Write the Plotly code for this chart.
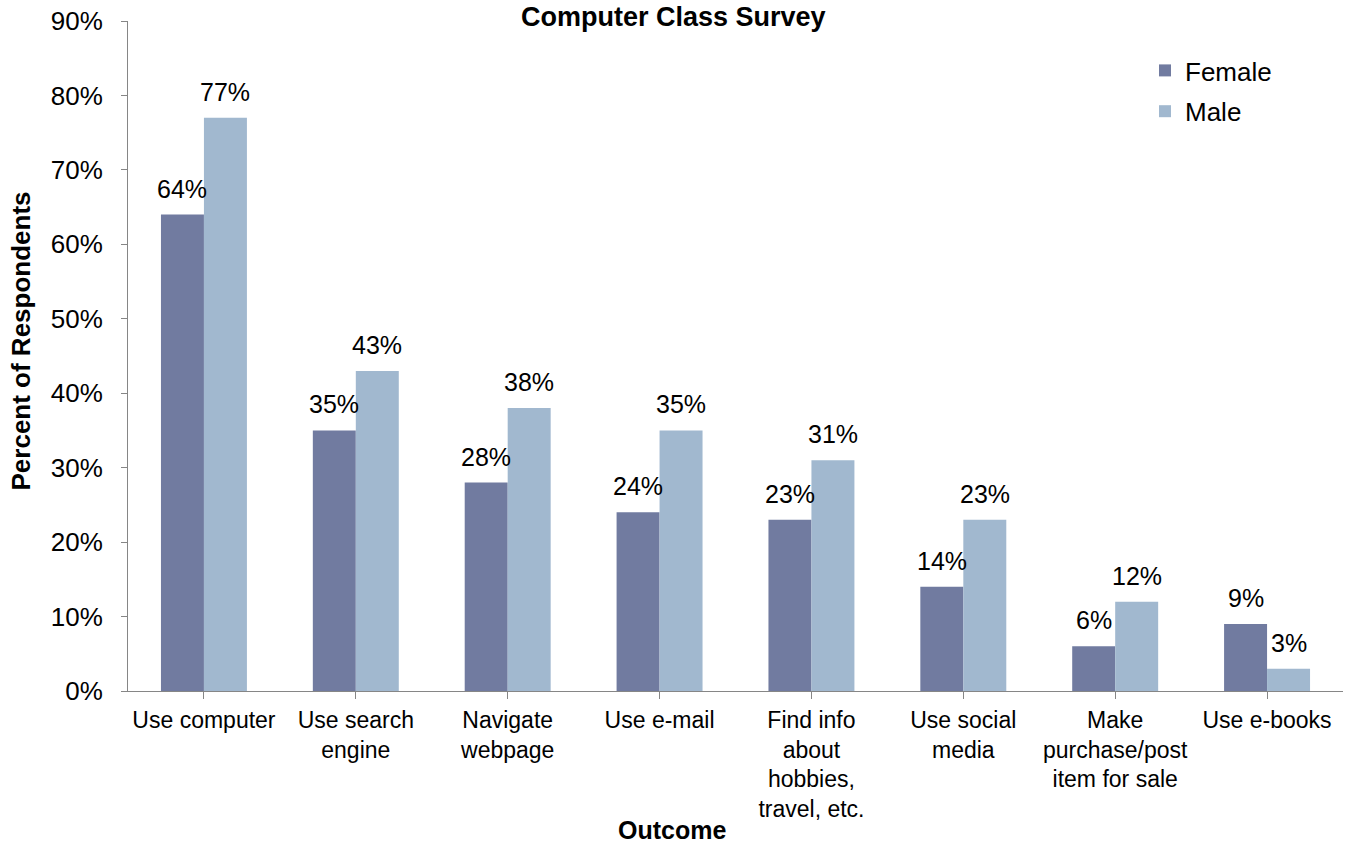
import plotly.graph_objects as go

categories = ["Use computer", "Use search<br>engine", "Navigate<br>webpage", "Use e-mail",
              "Find info<br>about<br>hobbies,<br>travel, etc.", "Use social<br>media",
              "Make<br>purchase/post<br>item for sale", "Use e-books"]
female = [64, 35, 28, 24, 23, 14, 6, 9]
male = [77, 43, 38, 35, 31, 23, 12, 3]
y_ticks = list(range(0, 91, 10))

FONT = "Liberation Sans, Arial, sans-serif"
c_f = "#717BA0"
c_m = "#A1B8CF"
bargap = 0.434
bw = (1 - bargap) / 2

W, H = 1347, 846
L, R, T, B = 128, 4, 21, 155
PW = W - L - R
PH = H - T - B
Y0 = H - B  # pixel row of the x axis

fig = go.Figure()
fig.add_trace(go.Bar(name="Female", x=list(range(len(categories))), y=female, marker_color=c_f,
                     marker_line_width=0, legendgroup="f"))
fig.add_trace(go.Bar(name="Male", x=list(range(len(categories))), y=male, marker_color=c_m,
                     marker_line_width=0, legendgroup="m"))

annotations = []
for i, (f, m) in enumerate(zip(female, male)):
    for val, off in ((f, -bw / 2), (m, bw / 2)):
        annotations.append(dict(x=i + off, y=val, xref="x", yref="y", text=f"{val}%",
                                showarrow=False, yanchor="bottom", yshift=10,
                                font=dict(size=25, color="black", family=FONT)))

annotations.append(dict(text="<b>Computer Class Survey</b>", x=(673 - L) / PW, y=1.0,
                        xref="paper", yref="paper", yanchor="middle", yshift=4, showarrow=False,
                        font=dict(size=27, color="black", family=FONT)))
annotations.append(dict(text="<b>Outcome</b>", x=(671.5 - L) / PW, y=0, xref="paper",
                        yref="paper", yanchor="middle", yshift=-139, showarrow=False,
                        font=dict(size=25, color="black", family=FONT)))
annotations.append(dict(text="<b>Percent of Respondents</b>", x=0, y=(Y0 - 341.5) / PH,
                        xref="paper", yref="paper", xanchor="center", yanchor="middle",
                        xshift=-108, textangle=-90, showarrow=False,
                        font=dict(size=26, color="black", family=FONT)))

fig.update_layout(
    width=W, height=H,
    margin=dict(l=L, r=R, t=T, b=B),
    plot_bgcolor="white", paper_bgcolor="white",
    barmode="group", bargap=bargap, bargroupgap=0,
    font=dict(family=FONT, size=25, color="black"),
    legend=dict(x=(1145 - L) / PW, y=(Y0 - 47) / PH, xanchor="left", yanchor="top",
                font=dict(size=26, color="black", family=FONT), bgcolor="rgba(0,0,0,0)",
                itemwidth=30, tracegroupgap=4),
    annotations=annotations,
    showlegend=True,
)
fig.update_xaxes(
    tickmode="array", tickvals=list(range(len(categories))), ticktext=categories,
    range=[-0.5, len(categories) - 0.5],
    showline=True, linecolor="#868686", linewidth=1,
    ticks="outside", ticklen=7, tickcolor="#868686",
    tickfont=dict(size=23, color="black", family=FONT),
    ticklabelstandoff=1,
    showgrid=False, zeroline=False,
)
fig.update_xaxes(tickson="boundaries")
fig.update_yaxes(
    range=[0, 90], tickvals=y_ticks, ticktext=[f"{v}%" for v in y_ticks], tickmode="array",
    showline=True, linecolor="#868686", linewidth=1,
    ticks="outside", ticklen=6, tickcolor="#868686",
    tickfont=dict(size=26, color="black", family=FONT),
    ticklabelstandoff=13, ticklabeloverflow="allow",
    showgrid=False, zeroline=False,
)

fig.write_html("out.html", config={"displayModeBar": False},
               post_script="document.body.style.margin='0';document.body.style.overflow='hidden';")
